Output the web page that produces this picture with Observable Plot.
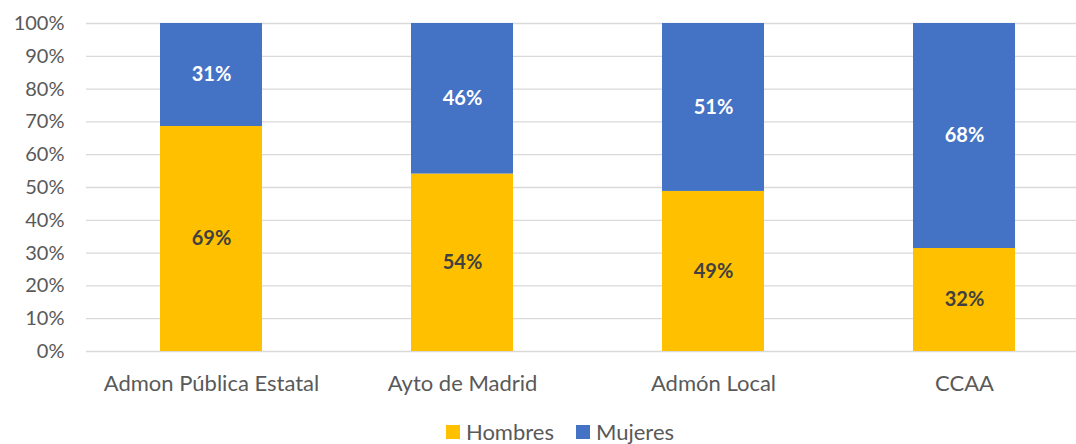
<!DOCTYPE html>
<html>
<head>
<meta charset="utf-8">
<script src="https://cdn.jsdelivr.net/npm/d3@7"></script>
<script src="https://cdn.jsdelivr.net/npm/@observablehq/plot@0.6"></script>
<style>
  body { margin: 0; background: #fff; font-family: Lato, "Open Sans", sans-serif; }
  #chart { width: 1076px; height: 444px; position: relative; overflow: hidden; }
  .legend { position: absolute; top: 421px; left: 44px; width: 1032px; display: flex; justify-content: center; align-items: center; font-size: 22px; color: #595959; line-height: 22px; height: 22px; }
  .legend .item { display: flex; align-items: center; margin: 0 11px; }
  .legend .sw { width: 14px; height: 14px; margin-right: 6px; display: inline-block; }
</style>
</head>
<body>
<div id="chart"></div>
<script>
const categories = ["Admon Pública Estatal", "Ayto de Madrid", "Admón Local", "CCAA"];
const series = ["Hombres", "Mujeres"];
const colors = ["#FFC000", "#4472C4"];
const hombres = [68.6, 54.1, 48.8, 31.4];
const mujeres = [31.4, 45.9, 51.2, 68.6];
const hombresLabels = ["69%", "54%", "49%", "32%"];
const mujeresLabels = ["31%", "46%", "51%", "68%"];
const yTicks = [0, 10, 20, 30, 40, 50, 60, 70, 80, 90, 100];

const data = [];
categories.forEach((c, i) => {
  data.push({cat: c, sex: series[0], value: hombres[i], label: hombresLabels[i]});
  data.push({cat: c, sex: series[1], value: mujeres[i], label: mujeresLabels[i]});
});

const plot = Plot.plot({
  width: 1076,
  height: 410,
  marginLeft: 86,
  marginRight: 0,
  marginTop: 23,
  marginBottom: 59,
  style: {fontFamily: "Lato, 'Open Sans', sans-serif", fontSize: "20px", color: "#595959", background: "white"},
  x: {domain: categories, range: [86, 1090], paddingInner: 0.592, paddingOuter: 0.296, label: null},
  y: {domain: [0, 100], label: null},
  color: {domain: series, range: colors},
  marks: [
    Plot.ruleY(yTicks, {stroke: "#D9D9D9", strokeWidth: 1.3}),
    Plot.barY(data, Plot.stackY({x: "cat", y: "value", z: "sex", fill: "sex"})),
    Plot.text(data, Plot.stackY({x: "cat", y: "value", z: "sex",
      text: d => d.sex === "Hombres" ? d.label : "",
      fill: "#404040", fontWeight: "bold", fontSize: 20})),
    Plot.text(data, Plot.stackY({x: "cat", y: "value", z: "sex",
      text: d => d.sex === "Mujeres" ? d.label : "",
      fill: "white", fontWeight: "bold", fontSize: 20})),
    Plot.axisY({ticks: yTicks, tickSize: 0, tickPadding: 22, tickFormat: d => d + "%", label: null, fill: "#595959", fontSize: 20}),
    Plot.axisX({tickSize: 0, tickPadding: 24, label: null, fill: "#595959", fontSize: 22})
  ]
});
document.getElementById("chart").appendChild(plot);

const legend = document.createElement("div");
legend.className = "legend";
series.forEach((s, i) => {
  const item = document.createElement("span");
  item.className = "item";
  const sw = document.createElement("span");
  sw.className = "sw";
  sw.style.background = colors[i];
  item.appendChild(sw);
  item.appendChild(document.createTextNode(s));
  legend.appendChild(item);
});
document.getElementById("chart").appendChild(legend);
</script>
</body>
</html>
